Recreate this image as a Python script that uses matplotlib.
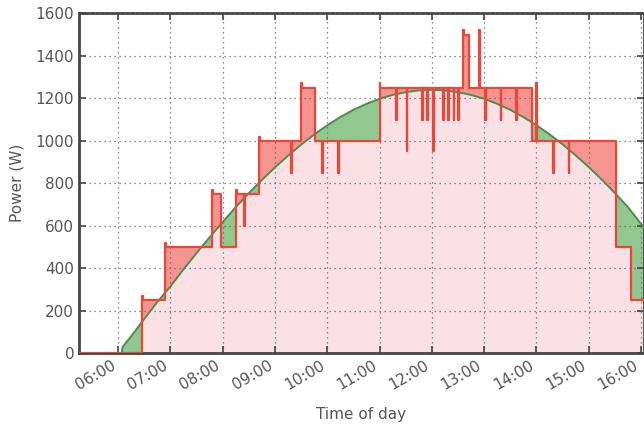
import numpy as np
import matplotlib
matplotlib.use("Agg")
import matplotlib.pyplot as plt
from matplotlib.ticker import FuncFormatter, MultipleLocator

# Solar production (green curve)
solar_times = ["05:15", "06:04", "06:05", "06:15", "06:30", "06:45", "07:00", "07:15",
               "07:30", "07:45", "08:00", "08:15", "08:30", "08:45", "09:00", "09:15",
               "09:30", "09:45", "10:00", "10:15", "10:30", "10:45", "11:00", "11:15",
               "11:30", "11:45", "12:00", "12:15", "12:30", "12:45", "13:00", "13:15",
               "13:30", "13:45", "14:00", "14:15", "14:30", "14:45", "15:00", "15:15",
               "15:30", "15:45", "16:00", "16:15"]
solar_power = [0, 0, 30, 81, 162, 242, 315, 395, 472, 546, 618, 688, 754, 816, 875, 930,
               982, 1030, 1073, 1112, 1146, 1174, 1198, 1216, 1229, 1237, 1240, 1237, 1229,
               1216, 1198, 1174, 1146, 1112, 1074, 1031, 984, 932, 877, 818, 755, 689, 610, 540]

# Household consumption (red step line), value holds until next time
load_times = ["05:15", "06:27", "06:28", "06:54", "06:55", "07:48", "07:49", "07:58",
              "08:15", "08:16", "08:24", "08:25", "08:42", "08:43", "09:18", "09:19",
              "09:30", "09:31", "09:46", "09:54", "09:55", "10:12", "10:13", "11:00",
              "11:01", "11:19", "11:20", "11:31", "11:32", "11:49", "11:50", "11:55",
              "11:56", "12:01", "12:02", "12:13", "12:14", "12:19", "12:20", "12:25",
              "12:26", "12:30", "12:31", "12:36", "12:37", "12:43", "12:54", "12:55",
              "13:01", "13:02", "13:19", "13:20", "13:37", "13:38", "13:55", "14:00",
              "14:01", "14:19", "14:20", "14:37", "14:38", "15:31", "15:49", "16:10"]
load_power = [0, 270, 250, 520, 500, 770, 750, 500,
              770, 750, 600, 750, 1020, 1000, 850, 1000,
              1270, 1250, 1000, 850, 1000, 850, 1000, 1270,
              1250, 1100, 1250, 950, 1250, 1100, 1250, 1100,
              1250, 950, 1250, 1100, 1250, 1100, 1250, 1100,
              1250, 1100, 1250, 1520, 1500, 1250, 1520, 1250,
              1100, 1250, 1100, 1250, 1100, 1250, 1000, 1270,
              1000, 850, 1000, 850, 1000, 500, 250, 250]

y_ticks = [0, 200, 400, 600, 800, 1000, 1200, 1400, 1600]


def to_hours(labels):
    return np.array([int(s[:2]) + int(s[3:]) / 60.0 for s in labels])


st = to_hours(solar_times)
lt = to_hours(load_times)
sp = np.array(solar_power, dtype=float)
lp = np.array(load_power, dtype=float)

# common fine grid for the filled areas
grid = np.arange(5.25, 16.2, 1 / 240.0)
solar_g = np.interp(grid, st, sp)
idx = np.searchsorted(lt, grid, side="right") - 1
load_g = lp[np.clip(idx, 0, len(lp) - 1)]
low = np.minimum(solar_g, load_g)

red = "#e8483a"
fig = plt.figure(figsize=(6.44, 4.30), dpi=100)
ax = fig.add_axes([0.1227, 0.1784, 0.8773, 0.7906])

ax.fill_between(grid, 0, low, color="#fbe0e6", lw=0, zorder=1)
ax.fill_between(grid, load_g, solar_g, where=solar_g >= load_g, interpolate=True,
                color="#90c890", lw=0, zorder=1)
ax.fill_between(grid, solar_g, load_g, where=load_g >= solar_g, interpolate=True,
                color="#f59490", lw=0, zorder=1)

ax.plot(st, sp, color="#4e8d4e", lw=1.4, zorder=3)
ax.step(lt, lp, where="post", color=red, lw=1.6, zorder=4)

ax.set_xlim(5.25, 16.06)
ax.set_ylim(0, 1600)
ax.set_yticks(y_ticks)
ax.xaxis.set_major_locator(MultipleLocator(1))
ax.xaxis.set_major_formatter(FuncFormatter(lambda v, p: f"{int(round(v)):02d}:00"))

ax.grid(True, linestyle=(0, (1, 3)), color="#666666", lw=0.9)
ax.set_axisbelow(False)
for s in ax.spines.values():
    s.set_color("#444444")
    s.set_linewidth(2)
ax.tick_params(direction="in", length=5, width=1.2, color="#444444",
               labelcolor="#555555", labelsize=11, top=True, right=True)
plt.setp(ax.get_xticklabels(), rotation=30, ha="right")

ax.set_xlabel("Time of day", color="#555555", fontsize=11, labelpad=10)
ax.set_ylabel("Power (W)", color="#555555", fontsize=11, labelpad=8)

fig.savefig("out.png", dpi=100)
